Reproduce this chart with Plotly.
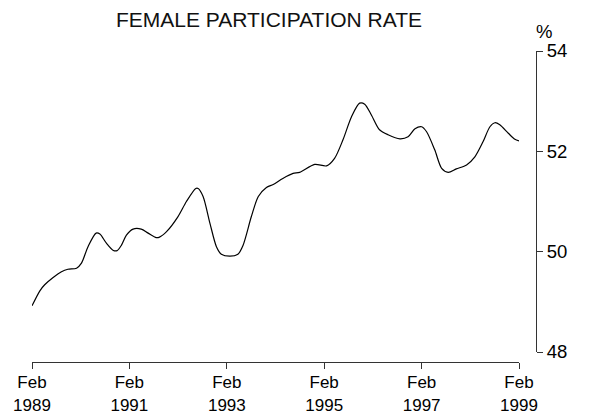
import plotly.graph_objects as go

# 讀圖估計的數值（女性勞動參與率 %）
dates = [
    "1989-02-01", "1989-04-01", "1989-05-07", "1989-07-07", "1989-09-10", "1989-10-28",
    "1990-01-01", "1990-02-07", "1990-03-28", "1990-05-28", "1990-06-25", "1990-08-13",
    "1990-10-01", "1990-11-01", "1990-12-04", "1991-01-10", "1991-03-01", "1991-05-01",
    "1991-06-22", "1991-08-22", "1991-09-15", "1991-11-07", "1992-02-01", "1992-04-04",
    "1992-06-13", "1992-07-01", "1992-08-07", "1992-09-28", "1992-11-15", "1992-12-22",
    "1993-02-25", "1993-04-25", "1993-06-03", "1993-08-04", "1993-09-25", "1993-11-25",
    "1994-01-15", "1994-03-28", "1994-06-13", "1994-08-01", "1994-11-22", "1995-02-19",
    "1995-04-20", "1995-06-22", "1995-08-25", "1995-10-25", "1995-12-02", "1996-01-22",
    "1996-03-22", "1996-05-25", "1996-08-22", "1996-10-22", "1996-12-13", "1997-02-01",
    "1997-03-10", "1997-05-10", "1997-07-01", "1997-08-19", "1997-10-19", "1998-01-04",
    "1998-03-07", "1998-05-07", "1998-06-28", "1998-08-04", "1998-09-10", "1998-11-13",
    "1999-01-01", "1999-02-01",
]
rate = [
    48.92, 49.22, 49.34, 49.48, 49.60, 49.65,
    49.67, 49.77, 50.10, 50.37, 50.35, 50.17,
    50.03, 50.02, 50.13, 50.33, 50.45, 50.45,
    50.37, 50.28, 50.29, 50.40, 50.70, 51.00,
    51.26, 51.26, 51.10, 50.56, 50.10, 49.95,
    49.91, 49.95, 50.13, 50.70, 51.10, 51.28,
    51.34, 51.46, 51.56, 51.58, 51.74, 51.71,
    51.86, 52.23, 52.69, 52.96, 52.94, 52.72,
    52.43, 52.33, 52.25, 52.29, 52.45, 52.49,
    52.39, 52.03, 51.66, 51.58, 51.65, 51.73,
    51.89, 52.19, 52.49, 52.57, 52.53, 52.36,
    52.24, 52.21,
]

x_ticks = ["1989-02-01", "1991-02-01", "1993-02-01", "1995-02-01", "1997-02-01", "1999-02-01"]
x_labels = ["Feb<br>1989", "Feb<br>1991", "Feb<br>1993", "Feb<br>1995", "Feb<br>1997", "Feb<br>1999"]
y_ticks = [48, 50, 52, 54]

FONT = "Liberation Sans, Arial, sans-serif"

# 頁面 body 預設有 8px 邊距，圖表尺寸扣掉
W, H = 601, 407

fig = go.Figure(go.Scatter(
    x=dates, y=rate, mode="lines",
    line=dict(color="black", width=1.2, shape="spline", smoothing=0.8),
    showlegend=False, hoverinfo="skip",
))

fig.update_layout(
    width=W, height=H,
    margin=dict(l=24, r=73, t=43, b=53),
    paper_bgcolor="white", plot_bgcolor="white",
    font=dict(family=FONT, size=18.5, color="black"),
    title=dict(text="FEMALE PARTICIPATION RATE", x=(269 - 8) / W, xref="container",
               xanchor="center", y=1 - (19.5 - 8) / H, yanchor="middle",
               font=dict(family=FONT, size=21, color="#111")),
    xaxis=dict(
        type="date", range=["1989-02-01", "1999-02-01"],
        domain=[0, 487 / 504], anchor="free", position=0, automargin=False,
        tickvals=x_ticks, ticktext=x_labels, tickfont=dict(size=17),
        ticklabelstandoff=-1,
        showgrid=False, zeroline=False,
        showline=True, linecolor="#333", linewidth=1,
        ticks="outside", ticklen=6, tickcolor="#333", tickwidth=1,
    ),
    yaxis=dict(
        range=[48, 54], domain=[10 / 311, 1], automargin=False,
        side="right", anchor="free", position=1,
        tickvals=y_ticks, showgrid=False, zeroline=False,
        showline=True, linecolor="#333", linewidth=1,
        ticks="outside", ticklen=6, tickcolor="#333", tickwidth=1,
    ),
    annotations=[dict(text="%", xref="paper", yref="paper",
                      x=(544 - 32) / 504, y=(362 - 32) / 311,
                      xanchor="center", yanchor="middle", showarrow=False,
                      font=dict(family=FONT, size=18.5, color="black"))],
)

fig.write_html("out.html")
